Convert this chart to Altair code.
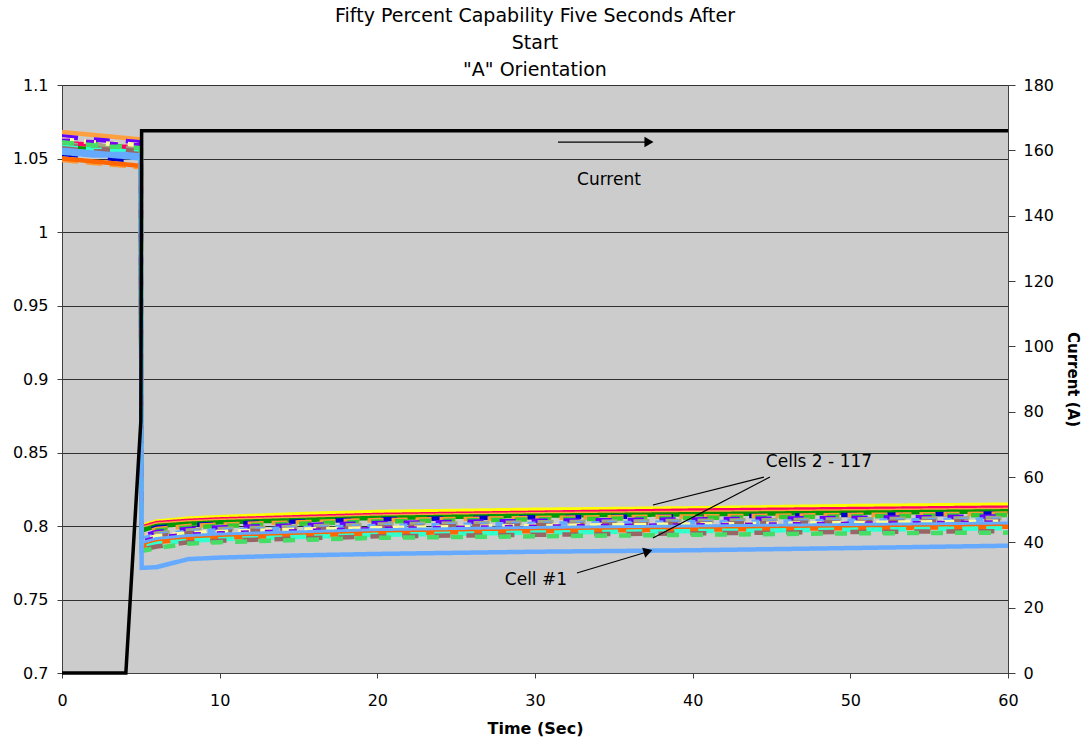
import altair as alt
import pandas as pd

# Sample times (s): before the load step and after it
TIME_PRE = [0, 1, 2, 3, 4, 5]
TIME_POST = [5.05, 6, 8, 10, 15, 20, 30, 40, 50, 60]

# Cell voltages (V) at TIME_PRE + TIME_POST
CELL_YELLOW = [1.058, 1.058, 1.057, 1.056, 1.056, 1.055,
               0.800, 0.803, 0.805, 0.806, 0.808, 0.8095, 0.811, 0.812, 0.8135, 0.8145]
CELL_CRIMSON = [1.060, 1.060, 1.059, 1.058, 1.058, 1.057,
                0.799, 0.802, 0.8035, 0.8045, 0.806, 0.8075, 0.809, 0.8105, 0.8115, 0.8125]
CELL_ORANGE = [1.068, 1.067, 1.066, 1.065, 1.064, 1.063,
               0.798, 0.801, 0.8025, 0.8035, 0.805, 0.8065, 0.808, 0.809, 0.810, 0.811]
CELL_DKGREEN = [1.057, 1.057, 1.056, 1.055, 1.055, 1.054,
                0.797, 0.800, 0.8015, 0.8025, 0.804, 0.8055, 0.807, 0.808, 0.809, 0.810]
CELL_DKBLUE = [1.053, 1.052, 1.051, 1.050, 1.049, 1.048,
               0.796, 0.799, 0.8005, 0.8015, 0.803, 0.8045, 0.806, 0.8065, 0.8075, 0.8085]
CELL_ORANGE2 = [1.049, 1.048, 1.047, 1.046, 1.045, 1.044,
                0.795, 0.798, 0.800, 0.801, 0.8025, 0.804, 0.8055, 0.8065, 0.8075, 0.8085]
CELL_GREEN = [1.061, 1.061, 1.060, 1.059, 1.058, 1.057,
              0.794, 0.797, 0.799, 0.800, 0.8015, 0.803, 0.8045, 0.8055, 0.8065, 0.8075]
CELL_PURPLE = [1.065, 1.064, 1.063, 1.062, 1.062, 1.061,
               0.793, 0.796, 0.798, 0.799, 0.8005, 0.802, 0.8035, 0.8045, 0.8055, 0.8065]
CELL_SAGE = [1.060, 1.059, 1.059, 1.058, 1.057, 1.056,
             0.792, 0.795, 0.797, 0.798, 0.7995, 0.801, 0.8025, 0.8035, 0.8045, 0.8055]
CELL_LTBLUE = [1.055, 1.055, 1.054, 1.053, 1.052, 1.051,
               0.791, 0.794, 0.796, 0.797, 0.7985, 0.800, 0.8015, 0.8025, 0.8035, 0.8045]
CELL_BROWN = [1.059, 1.058, 1.057, 1.056, 1.056, 1.055,
              0.790, 0.793, 0.795, 0.796, 0.7975, 0.799, 0.8005, 0.8015, 0.8025, 0.8035]
CELL_LTYELLOW = [1.063, 1.062, 1.061, 1.060, 1.060, 1.059,
                 0.790, 0.793, 0.795, 0.796, 0.7975, 0.7985, 0.800, 0.801, 0.802, 0.803]
CELL_PURPLE2 = [1.062, 1.062, 1.061, 1.060, 1.059, 1.059,
                0.789, 0.792, 0.794, 0.795, 0.7965, 0.798, 0.7995, 0.8005, 0.8015, 0.8025]
CELL_LTBLUE2 = [1.054, 1.053, 1.052, 1.052, 1.051, 1.050,
                0.788, 0.791, 0.793, 0.794, 0.7955, 0.797, 0.7985, 0.7995, 0.8005, 0.8015]
CELL_ORANGERED = [1.050, 1.049, 1.048, 1.047, 1.046, 1.045,
                  0.786, 0.789, 0.791, 0.792, 0.7935, 0.795, 0.7965, 0.7975, 0.7985, 0.7995]
CELL_CYAN = [1.058, 1.057, 1.056, 1.056, 1.055, 1.054,
             0.785, 0.788, 0.790, 0.791, 0.7925, 0.794, 0.7955, 0.7965, 0.7975, 0.7985]
CELL_BROWN2 = [1.057, 1.056, 1.055, 1.055, 1.054, 1.053,
               0.784, 0.786, 0.789, 0.790, 0.7915, 0.793, 0.794, 0.795, 0.796, 0.7965]
CELL_GREEN2 = [1.061, 1.060, 1.059, 1.058, 1.058, 1.057,
               0.783, 0.785, 0.788, 0.789, 0.7905, 0.792, 0.793, 0.794, 0.795, 0.7955]
CELL_ONE = [1.056, 1.055, 1.054, 1.053, 1.053, 1.052,
            0.7715, 0.772, 0.7775, 0.7785, 0.780, 0.781, 0.7825, 0.7835, 0.785, 0.7866]

# Pack current (A)
CURRENT_T = [0, 1, 2, 3, 4.05, 5.0, 5.05, 60]
CURRENT_A = [0, 0, 0, 0, 0, 77, 166, 166]

CELLS = [
    ("c02", CELL_YELLOW), ("c03", CELL_CRIMSON), ("c04", CELL_ORANGE),
    ("c05", CELL_DKGREEN), ("c06", CELL_DKBLUE), ("c07", CELL_ORANGE2),
    ("c08", CELL_GREEN), ("c09", CELL_PURPLE), ("c10", CELL_SAGE),
    ("c11", CELL_LTBLUE), ("c12", CELL_BROWN), ("c13", CELL_LTYELLOW),
    ("c14", CELL_PURPLE2), ("c15", CELL_LTBLUE2), ("c16", CELL_ORANGERED),
    ("c17", CELL_CYAN), ("c18", CELL_BROWN2), ("c19", CELL_GREEN2),
    ("c01", CELL_ONE),
]
COLORS = ["#FFFF00", "#FF0066", "#FFA040", "#009900", "#0000CC", "#FF9933",
          "#33CC33", "#6600FF", "#A0A880", "#66AAFF", "#996666", "#FFFF99",
          "#7A00F0", "#66AAFF", "#FF6600", "#33FFCC", "#996666", "#44DD66",
          "#66AAFF"]
DASHES = [[1, 0], [1, 0], [1, 0], [1, 0], [16, 30], [16, 8],
          [12, 12], [16, 16], [16, 16], [8, 8], [16, 16], [12, 10],
          [8, 16], [1, 0], [1, 0], [16, 8], [16, 16], [12, 12],
          [1, 0]]

times = TIME_PRE + TIME_POST
rows = []
for name, vals in CELLS:
    for t, v in zip(times, vals):
        rows.append({"cell": name, "t": t, "v": v})
cell_df = pd.DataFrame(rows)
cur_df = pd.DataFrame({"t": CURRENT_T, "a": CURRENT_A})

names = [n for n, _ in CELLS]
FONT = "DejaVu Sans"

x_enc = alt.X("t:Q", scale=alt.Scale(domain=[0, 60], nice=False),
              axis=alt.Axis(values=[0, 10, 20, 30, 40, 50, 60], title="Time (Sec)",
                            grid=False, tickSize=5, labelPadding=14, labelFlush=False,
                            titlePadding=12, titleFontSize=16, format="d"))
v_scale = alt.Scale(domain=[0.7, 1.1], nice=False, zero=False)

cells = alt.Chart(cell_df).mark_line(strokeWidth=4.5, clip=True).encode(
    x=x_enc,
    y=alt.Y("v:Q", scale=v_scale,
            axis=alt.Axis(values=[0.7, 0.75, 0.8, 0.85, 0.9, 0.95, 1.0, 1.05, 1.1],
                          title=None, grid=True, format="~g", tickSize=5,
                          labelPadding=9, labelFlush=False, orient="left")),
    color=alt.Color("cell:N", scale=alt.Scale(domain=names, range=COLORS), legend=None),
    strokeDash=alt.StrokeDash("cell:N", scale=alt.Scale(domain=names, range=DASHES),
                              legend=None),
)

current = alt.Chart(cur_df).mark_line(strokeWidth=3.5, color="black").encode(
    x=alt.X("t:Q", scale=alt.Scale(domain=[0, 60], nice=False)),
    y=alt.Y("a:Q", scale=alt.Scale(domain=[0, 180], nice=False),
            axis=alt.Axis(values=list(range(0, 181, 20)), title="Current (A)",
                          orient="right", grid=False, tickSize=7, labelPadding=8,
                          labelFlush=False, titlePadding=11, format="d")),
)

# Annotations, placed in voltage/time coordinates
ann_text = pd.DataFrame({
    "t": [34.69, 48.01, 30.06],
    "v": [1.0354, 0.8435, 0.7633],
    "label": ["Current", "Cells 2 - 117", "Cell #1"],
})
ann_lines = pd.DataFrame({
    "t": [31.46, 44.52, 44.90, 32.66],
    "v": [1.0612, 0.8333, 0.8333, 0.7680],
    "t2": [37.17, 37.48, 37.48, 37.10],
    "v2": [1.0612, 0.8143, 0.7918, 0.7823],
})
ann_heads = pd.DataFrame({
    "t": [37.23, 37.17],
    "v": [1.0612, 0.7827],
    "ang": [0, 343],
})

y_hidden = alt.Y("v:Q", scale=v_scale, axis=None)
x_plain = alt.X("t:Q", scale=alt.Scale(domain=[0, 60], nice=False))

texts = alt.Chart(ann_text).mark_text(font=FONT, fontSize=17, color="black").encode(
    x=x_plain, y=y_hidden, text="label:N")
lines = alt.Chart(ann_lines).mark_rule(color="black", strokeWidth=1.2).encode(
    x=x_plain, y=y_hidden, x2="t2:Q", y2="v2:Q")
heads = alt.Chart(ann_heads).mark_point(
    shape="triangle-right", filled=True, color="black", size=110, opacity=1
).encode(x=x_plain, y=y_hidden, angle=alt.Angle("ang:Q", scale=None))

chart = alt.layer(cells, current, texts, lines, heads).resolve_scale(
    y="independent"
).properties(
    width=946,
    height=588,
    padding={"left": 62, "top": 85, "right": 76, "bottom": 65},
    autosize=alt.AutoSizeParams(type="none"),
    background="white",
    title=alt.TitleParams(
        text=["Fifty Percent Capability Five Seconds After", "Start", '"A" Orientation'],
        font=FONT, fontSize=19, fontWeight="normal", color="black",
        lineHeight=27, anchor="middle", frame="group", offset=-3,
    ),
).configure_view(
    fill="#CCCCCC", stroke="#404040", strokeWidth=1
).configure_axis(
    labelFont=FONT, labelFontSize=16, labelColor="black",
    titleFont=FONT, titleFontSize=15, titleFontWeight="bold", titleColor="black",
    domainColor="#404040", tickColor="#404040", gridColor="#303030",
    gridWidth=1, domainWidth=1, tickWidth=1,
)

chart.save("out.html", embed_options={"renderer": "svg", "actions": False})
